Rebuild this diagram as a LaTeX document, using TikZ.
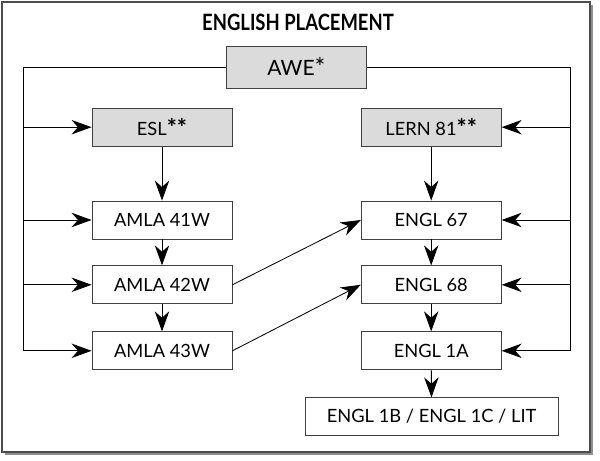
\documentclass[tikz,border=0pt]{standalone}
\usepackage{fontspec}
\setmainfont{Lato}
\usepackage{graphicx}
\usetikzlibrary{arrows.meta,shadows}

\newcommand{\estrellas}{\raisebox{-0.05ex}{\bfseries\fontsize{17}{17}\selectfont **}}

\begin{document}
\begin{tikzpicture}
		\tikzstyle{every node}=[font=\fontsize{13}{15}\selectfont]
		\tikzstyle{caja} = [draw=black!75, align=center, line width=0.6pt, fill=white, minimum width=3.5cm, minimum height=0.95cm, inner sep=0pt]
		\tikzstyle{gris} = [caja, fill=black!14]
		\tikzstyle{flecha} = [-{Stealth[length=5mm, width=3.6mm, inset=1.6mm]}, line width=0.6pt]
		\tikzstyle{linea} = [line width=0.6pt]
		
		\useasboundingbox (0,0) rectangle (15cm,-11.525cm);
		\draw[draw=black!70, line width=0.8pt, fill=white, drop shadow={shadow xshift=0.07cm, shadow yshift=-0.07cm, fill=black!55, opacity=0.8}] (0.05cm,-0.05cm) rectangle (14.75cm,-11.3cm);
		
		\draw (7.45cm,-0.55cm) node(titulo){\bfseries\fontsize{16}{18}\selectfont\scalebox{0.82}[1]{ENGLISH PLACEMENT}};
		
		\draw (7.41cm,-1.68cm) node[gris, minimum width=3.52cm, minimum height=1.05cm, font=\fontsize{15}{17}\selectfont](awe){AWE\raisebox{-0.1ex}{\fontsize{18}{18}\selectfont *}};
		\draw (4.05cm,-3.18cm) node[gris](esl){ESL\estrellas};
		\draw (10.78cm,-3.18cm) node[gris](lern){LERN 81\estrellas};
		
		\draw (4.05cm,-5.5cm) node[caja](amla41){AMLA 41W};
		\draw (4.05cm,-7.12cm) node[caja](amla42){AMLA 42W};
		\draw (4.05cm,-8.77cm) node[caja](amla43){AMLA 43W};
		
		\draw (10.78cm,-5.5cm) node[caja](engl67){ENGL 67};
		\draw (10.78cm,-7.12cm) node[caja](engl68){ENGL 68};
		\draw (10.78cm,-8.77cm) node[caja](engl1a){ENGL 1A};
		\draw (10.79cm,-10.41cm) node[caja, minimum width=6.33cm, minimum height=0.93cm](engl1b){ENGL 1B / ENGL 1C / LIT};
		
		\coordinate (izq) at (0.58cm,0);
		\coordinate (der) at (14.25cm,0);
		
		% lineas laterales desde AWE
		\draw[linea] (awe.west) -| (izq |- amla43);
		\draw[linea] (awe.east) -| (der |- engl1a);
		\draw[flecha] (izq |- esl) -- (esl.west);
		\draw[flecha] (izq |- amla41) -- (amla41.west);
		\draw[flecha] (izq |- amla42) -- (amla42.west);
		\draw[flecha] (izq |- amla43) -- (amla43.west);
		\draw[flecha] (der |- lern) -- (lern.east);
		\draw[flecha] (der |- engl67) -- (engl67.east);
		\draw[flecha] (der |- engl68) -- (engl68.east);
		\draw[flecha] (der |- engl1a) -- (engl1a.east);
		
		% columnas
		\draw[flecha] (esl) -- (amla41);
		\draw[flecha] (amla41) -- (amla42);
		\draw[flecha] (amla42) -- (amla43);
		\draw[flecha] (lern) -- (engl67);
		\draw[flecha] (engl67) -- (engl68);
		\draw[flecha] (engl68) -- (engl1a);
		\draw[flecha] (engl1a) -- (engl1b);
		
		% diagonales
		\draw[flecha] (amla42.east) -- (engl67.west);
		\draw[flecha] (amla43.east) -- (engl68.west);
	\end{tikzpicture}
\end{document}
